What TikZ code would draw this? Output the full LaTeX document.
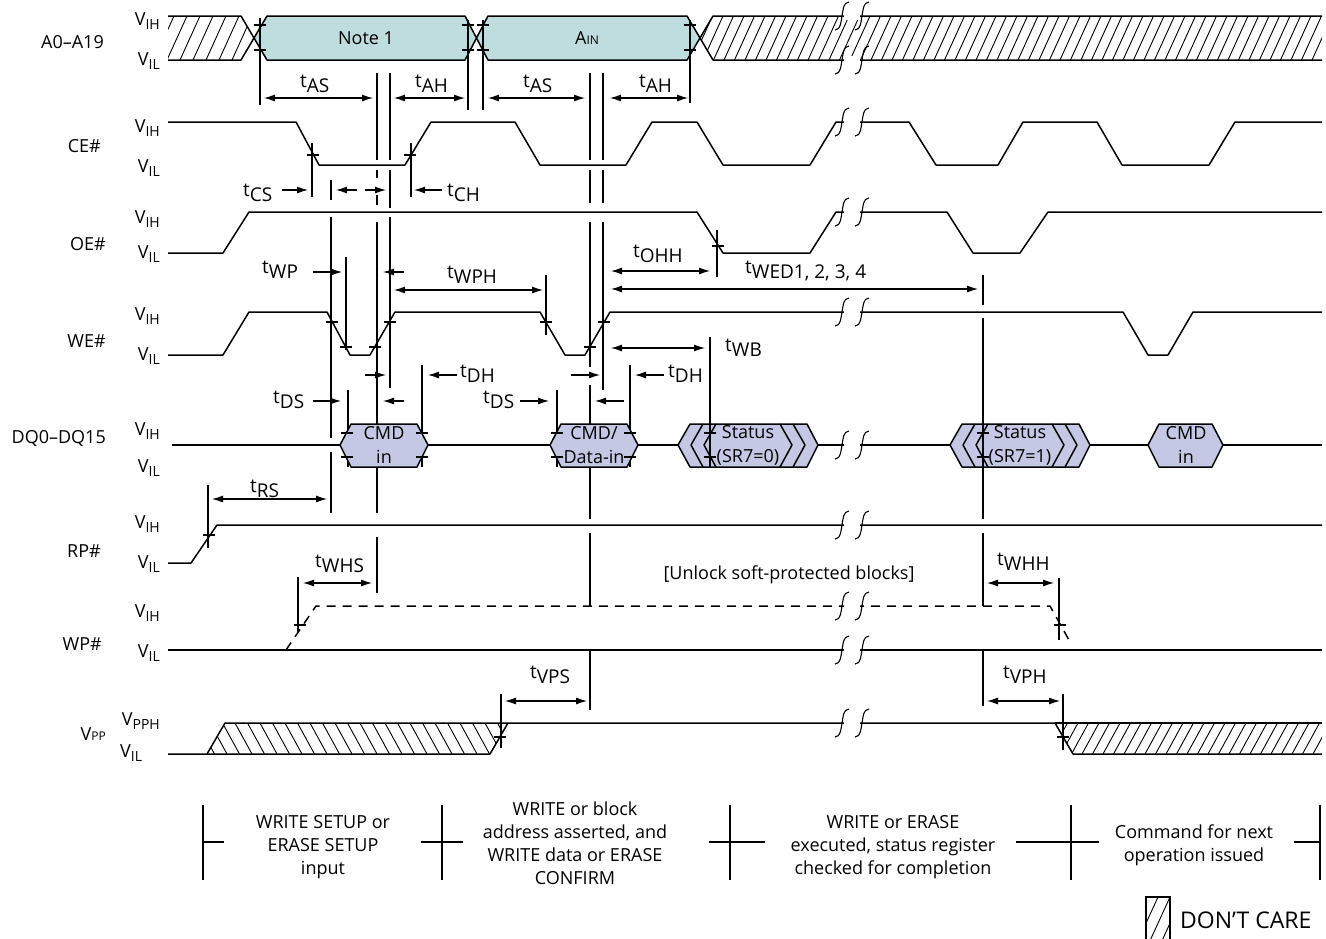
\documentclass[tikz,border=0pt]{standalone}
\usepackage{fontspec}
\setmainfont{Open Sans}
\usetikzlibrary{arrows.meta}

\definecolor{addrfill}{RGB}{191,221,222}
\definecolor{datafill}{RGB}{196,200,228}

\newcommand\tp[1]{t\raisebox{-5pt}{#1}}
\newcommand\vl[1]{V\raisebox{-4pt}{\fontsize{14}{14}\selectfont #1}}
\newcommand\tmark[2]{\draw[guide] (#1-6,#2) -- (#1+6,#2);}
\newcommand\wavebreak[1]{%
  \fill[white] (844,#1-4) rectangle (860,#1+4);
  \foreach \bx in {842,862}
    \draw[guide] (\bx-7,#1+14) .. controls (\bx-1,#1+14) and (\bx-1,#1+5) .. (\bx,#1)
      .. controls (\bx+1,#1-5) and (\bx+1,#1-14) .. (\bx+7,#1-14);}
\newcommand\dqbox[2]{%
  \filldraw[wave,fill=datafill] (#1,445) -- (#1+11,424) -- (#2-11,424) -- (#2,445)
    -- (#2-11,467) -- (#1+11,467) -- cycle;}
\newcommand\statusbox[1]{%
  \filldraw[wave,fill=datafill] (#1,445) -- (#1+12,424) -- (#1+129,424) -- (#1+140,445)
    -- (#1+129,467) -- (#1+12,467) -- cycle;
  \draw[wave] (#1+25,424) -- (#1+13,445) -- (#1+25,467);
  \draw[wave] (#1+38,424) -- (#1+26,445) -- (#1+38,467);
  \draw[wave] (#1+102,424) -- (#1+114,445) -- (#1+102,467);
  \draw[wave] (#1+115,424) -- (#1+127,445) -- (#1+115,467);}

\begin{document}
\begin{tikzpicture}[x=1pt,y=-1pt,>={Latex[length=11pt,width=7pt]},
  font=\fontsize{18}{23}\selectfont,
  wave/.style={line width=1.5pt,line join=round},
  guide/.style={line width=1.1pt},
  dim/.style={guide,<->},
  hatchline/.style={line width=0.9pt},
  sig/.style={inner sep=0pt,anchor=base east},
  tlabel/.style={inner sep=0pt,anchor=base west,font=\fontsize{19}{23}\selectfont},
  phase/.style={inner sep=0pt,align=center,font=\fontsize{18}{23}\selectfont}]
\useasboundingbox (0,0) rectangle (1326,938);

% don't care areas
\begin{scope}
  \clip (168,16) -- (241,16) -- (254,38) -- (241,60) -- (168,60) -- cycle;
  \foreach \h in {141,154,...,270} \draw[hatchline] (\h,60) -- (\h+20,16);
\end{scope}
\begin{scope}
  \clip (700,38) -- (713,16) -- (1322,16) -- (1322,60) -- (713,60) -- cycle;
  \foreach \h in {682,692.5,...,1330} \draw[hatchline] (\h,60) -- (\h+20,16);
\end{scope}
\begin{scope}
  \clip (207,754) -- (225,723) -- (508,723) -- (490,754) -- cycle;
  \foreach \h in {185,197.5,...,510} \draw[hatchline] (\h,723) -- (\h+17,754);
\end{scope}
\begin{scope}
  \clip (1055,723) -- (1322,723) -- (1322,754) -- (1073,754) -- cycle;
  \foreach \h in {1040,1050.5,...,1330} \draw[hatchline] (\h,754) -- (\h+17,723);
\end{scope}

% address valid
\fill[addrfill] (254,38) -- (267,16) -- (465,16) -- (476.5,38) -- (465,60) -- (267,60) -- cycle;
\fill[addrfill] (476.5,38) -- (488,16) -- (687,16) -- (700,38) -- (687,60) -- (488,60) -- cycle;

% guide lines
\foreach \gx/\ga/\gb in {260/18/105, 468/20/110, 483/20/110, 690/20/103,
    312/143/197, 411/143/197,
    331/180/200, 331/217/438, 331/452/513, 346/257/350, 348/390/467,
    377/73/160, 377/170/178, 377/195/205, 377/222/513, 377/537/593,
    390/73/160, 390/170/208, 390/217/388, 422/365/467,
    546/275/335, 557/390/467,
    590/73/160, 590/170/203, 590/222/367, 590/385/519, 590/533/606, 590/650/710,
    603/73/160, 603/170/203, 603/222/390, 630/365/467,
    710/337/467, 717/230/277,
    983/275/305, 983/318/519, 983/533/606, 983/650/706,
    208/485/548, 298/577/632, 1059/578/640, 501/694/748, 1063/694/750}
  \draw[guide] (\gx,\ga) -- (\gx,\gb);

% waveforms
\draw[wave] (168,16) -- (241,16) -- (267,60) -- (465,60) -- (488,16) -- (687,16) -- (713,60) -- (1322,60);
\draw[wave] (168,60) -- (241,60) -- (267,16) -- (465,16) -- (488,60) -- (687,60) -- (713,16) -- (1322,16);
\draw[wave] (168,122) -- (296,122) -- (319,165) -- (405,165) -- (431,122) -- (515,122) -- (540,165)
  -- (626,165) -- (652,122) -- (697,122) -- (723,165) -- (810,165) -- (836,122) -- (909,122)
  -- (936,165) -- (998,165) -- (1023,122) -- (1097,122) -- (1122,165) -- (1209,165) -- (1235,122) -- (1322,122);
\draw[wave] (168,253) -- (223,253) -- (249,212) -- (697,212) -- (723,253) -- (810,253) -- (836,212)
  -- (947,212) -- (973,253) -- (1020,253) -- (1048,212) -- (1322,212);
\draw[wave] (168,355) -- (223,355) -- (249,312) -- (327,312) -- (350,355) -- (370,355) -- (395,312)
  -- (540,312) -- (565,355) -- (585,355) -- (610,312) -- (1123,312) -- (1148,355) -- (1168,355)
  -- (1193,312) -- (1322,312);
\draw[wave] (172,445) -- (1322,445);
\draw[wave] (168,563) -- (191,563) -- (217,525) -- (1322,525);
\draw[wave] (168,650) -- (1322,650);
\draw[wave,dash pattern=on 9pt off 7pt] (286,650) -- (316,606) -- (1050,606) -- (1069,640);
\draw[wave] (168,754) -- (207,754) -- (225,723) -- (1055,723) -- (1073,754) -- (1322,754);
\draw[wave] (207,754) -- (490,754) -- (508,723);
\draw[wave] (1055,723) -- (1322,723);

% data bus
\dqbox{340}{428}
\dqbox{550}{638}
\statusbox{678}
\statusbox{950}
\dqbox{1148}{1223}
\draw[guide] (710,424) -- (710,467);
\draw[guide] (983,424) -- (983,467);

% crossing marks
\foreach \mx/\my in {260/25, 260/50, 468/25, 468/50, 483/25, 483/50, 690/25, 690/50,
    313/155, 410/155, 718/246,
    332/322, 346/347, 375/347, 390/322, 546/322, 590/347, 604/322,
    347/433, 347/457, 422/433, 422/457, 557/433, 557/457, 630/433, 630/457,
    710/433, 710/457, 983/433, 983/457,
    209/535, 300/625, 1060/625, 500/737, 1063/737}
  {\tmark{\mx}{\my}}

% breaks
\foreach \by in {16,60,122,212,312,445,525,606,650,723}
  {\wavebreak{\by}}

% timing arrows
\draw[dim] (264,98) -- (373,98);
\draw[dim] (394,98) -- (465,98);
\draw[dim] (488,98) -- (585,98);
\draw[dim] (610,98) -- (688,98);
\draw[guide,->] (282,190) -- (308,190);
\draw[guide,->] (357,190) -- (336,190);
\draw[guide,->] (365,190) -- (386,190);
\draw[guide,->] (442,190) -- (414,190);
\draw[guide,->] (313,272) -- (342,272);
\draw[guide,->] (404,272) -- (383,272);
\draw[dim] (611,271) -- (710,271);
\draw[dim] (394,290) -- (543,290);
\draw[dim] (611,289) -- (978,289);
\draw[dim] (611,348) -- (705,348);
\draw[guide,->] (365,375) -- (386,375);
\draw[guide,->] (457,375) -- (428,375);
\draw[guide,->] (571,375) -- (600,375);
\draw[guide,->] (664,375) -- (635,375);
\draw[guide,->] (313,401) -- (341,401);
\draw[guide,->] (404,401) -- (383,401);
\draw[guide,->] (520,401) -- (549,401);
\draw[guide,->] (624,401) -- (595,401);
\draw[dim] (212,499) -- (327,499);
\draw[dim] (303,583) -- (372,583);
\draw[dim] (987,583) -- (1054,583);
\draw[dim] (505,701) -- (587,701);
\draw[dim] (987,701) -- (1060,701);

% signal names
\node[sig] (nA) at (104,48) {A0–A19};
\node[sig] (nCE) at (101,152) {CE\#};
\node[sig] (nOE) at (106,250) {OE\#};
\node[sig] (nWE) at (106,347) {WE\#};
\node[sig] (nDQ) at (106,443) {DQ0–DQ15};
\node[sig] (nRP) at (101,557) {RP\#};
\node[sig] (nWP) at (102,650) {WP\#};
\node[sig] (nVPP) at (106,740) {V{\fontsize{12}{12}\selectfont PP}};

% levels
\foreach \ly/\lt [count=\li] in {25/IH, 65/IL, 132/IH, 172/IL, 223/IH, 258/IL, 320/IH, 360/IL,
    435/IH, 472/IL, 528/IH, 568/IL, 617/IH, 657/IL, 725/PPH}
  \node[sig] (lv\li) at (160,\ly) {\vl{\lt}};
\node[tlabel,font=\fontsize{18}{23}\selectfont] (lvpp) at (120,757) {\vl{IL}};

% bus contents
\node[inner sep=0pt] (note) at (366,38) {Note 1};
\node[inner sep=0pt] (ain) at (587,38) {A{\fontsize{12}{12}\selectfont IN}};
\node[align=center,inner sep=0pt,font=\fontsize{18}{24}\selectfont] (cmd1) at (384,445) {CMD\\in};
\node[align=center,inner sep=0pt,font=\fontsize{18}{24}\selectfont] (cmd2) at (594,445) {CMD/\\Data-in};
\node[align=center,inner sep=0pt,font=\fontsize{18}{24}\selectfont] (sr0) at (748,445) {Status\\(SR7=0)};
\node[align=center,inner sep=0pt,font=\fontsize{18}{24}\selectfont] (sr1) at (1020,445) {Status\\(SR7=1)};
\node[align=center,inner sep=0pt,font=\fontsize{18}{24}\selectfont] (cmd3) at (1186,445) {CMD\\in};

% timing labels
\node[tlabel] (tas1) at (300,87) {\tp{AS}};
\node[tlabel] (tah1) at (415,87) {\tp{AH}};
\node[tlabel] (tas2) at (523,87) {\tp{AS}};
\node[tlabel] (tah2) at (639,87) {\tp{AH}};
\node[tlabel] (tcs) at (243,196) {\tp{CS}};
\node[tlabel] (tch) at (447,196) {\tp{CH}};
\node[tlabel] (twp) at (262,273) {\tp{WP}};
\node[tlabel] (twph) at (447,278) {\tp{WPH}};
\node[tlabel] (tohh) at (633,257) {\tp{OHH}};
\node[tlabel] (twed) at (745,273) {\tp{WED1, 2, 3, 4}};
\node[tlabel] (twb) at (725,351) {\tp{WB}};
\node[tlabel] (tdh1) at (460,377) {\tp{DH}};
\node[tlabel] (tdh2) at (668,377) {\tp{DH}};
\node[tlabel] (tds1) at (273,403) {\tp{DS}};
\node[tlabel] (tds2) at (483,403) {\tp{DS}};
\node[tlabel] (trs) at (250,492) {\tp{RS}};
\node[tlabel] (twhs) at (315,567) {\tp{WHS}};
\node[tlabel] (twhh) at (997,565) {\tp{WHH}};
\node[tlabel] (tvps) at (530,678) {\tp{VPS}};
\node[tlabel] (tvph) at (1003,678) {\tp{VPH}};
\node[inner sep=0pt] (unlock) at (789,575) {[Unlock soft-protected blocks]};

% phases
\foreach \px in {203,442,730,1071,1320}
  \draw[guide] (\px,805) -- (\px,880);
\draw[guide] (203,842) -- (224,842);
\draw[guide] (421,842) -- (463,842);
\draw[guide] (709,842) -- (765,842);
\draw[guide] (1016,842) -- (1099,842);
\draw[guide] (1294,842) -- (1320,842);
\node[phase] (ph1) at (323,847) {WRITE SETUP or\\ERASE SETUP\\input};
\node[phase] (ph2) at (575,843) {WRITE or block\\address asserted, and\\WRITE data or ERASE\\CONFIRM};
\node[phase] (ph3) at (893,847) {WRITE or ERASE\\executed, status register\\checked for completion};
\node[phase] (ph4) at (1194,845) {Command for next\\operation issued};

% legend
\begin{scope}
  \clip (1146,897) rectangle (1170,945);
  \foreach \h in {1124,1136,...,1174} \draw[hatchline] (\h,945) -- (\h+22,897);
\end{scope}
\draw[guide] (1146,945) -- (1146,897) -- (1170,897) -- (1170,945);
\node[inner sep=0pt,anchor=west,font=\fontsize{23}{28}\selectfont] (dc) at (1180,920) {DON’T CARE};
\end{tikzpicture}
\end{document}
